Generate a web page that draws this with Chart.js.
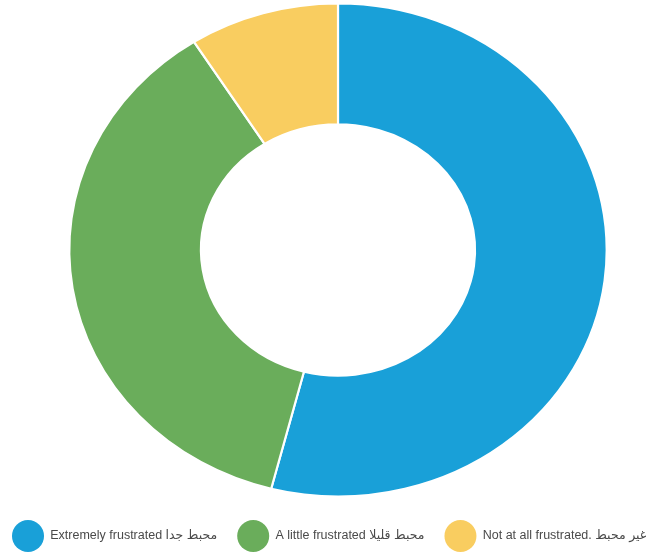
<!DOCTYPE html>
<html>
<head>
<meta charset="utf-8">
<script src="https://cdn.jsdelivr.net/npm/chart.js@4"></script>
<style>
  html, body { margin: 0; padding: 0; background: #fff; overflow: hidden; }
  #wrap { position: relative; width: 652px; height: 562px; }
</style>
</head>
<body>
<div id="wrap"><canvas id="frustrationChart"></canvas></div>
<script>
// Share of answers, clockwise from the top
const answerLabels = [
    'Extremely frustrated محبط جدا',
    'A little frustrated محبط قليلا',
    'Not at all frustrated. غير محبط'
];
const answerShares = [54, 37, 9];
const answerColors = ['#19a0d8', '#6aad5b', '#f9cd60'];

// the original plot is a bit wider than tall
const ellipsePlugin = {
    id: 'ellipse',
    beforeDatasetsDraw(chart) {
        const arc = chart.getDatasetMeta(0).data[0];
        const ctx = chart.ctx;
        ctx.save();
        ctx.translate(arc.x, arc.y);
        ctx.scale(1.09, 1);
        ctx.translate(-arc.x, -arc.y);
    },
    afterDatasetsDraw(chart) {
        chart.ctx.restore();
    }
};

// empty box on the left so the ring sits a little right of the legend centre
const leftGapPlugin = {
    id: 'leftGap',
    beforeInit(chart) {
        Chart.layouts.addBox(chart, {
            position: 'left',
            weight: 0,
            fullSize: false,
            options: {},
            width: 0,
            height: 0,
            update(maxWidth, maxHeight) {
                this.width = 32;
                this.height = maxHeight;
            },
            isHorizontal() { return false; },
            draw() {}
        });
    }
};

document.addEventListener('DOMContentLoaded', function() {
    const ctx = document.getElementById('frustrationChart').getContext('2d');
    new Chart(ctx, {
        type: 'doughnut',
        data: {
            labels: answerLabels,
            datasets: [{
                data: answerShares,
                backgroundColor: answerColors,
                borderColor: '#ffffff',
                borderWidth: 2,
                radius: '99%'
            }]
        },
        options: {
            responsive: true,
            maintainAspectRatio: false,
            animation: false,
            cutout: '51%',
            layout: { padding: { top: 0, left: -8, right: -32 } },
            plugins: {
                tooltip: { enabled: false },
                legend: {
                    position: 'bottom',
                    align: 'start',
                    labels: {
                        boxWidth: 32,
                        boxHeight: 32,
                        padding: 20,
                        color: '#4a4a4a',
                        font: { family: "'Liberation Sans', Arial, 'DejaVu Sans', sans-serif", size: 12.5 },
                        generateLabels(chart) {
                            const base = Chart.overrides.doughnut.plugins.legend.labels.generateLabels(chart);
                            return base.map(item => Object.assign(item, { borderRadius: 16, lineWidth: 0 }));
                        }
                    }
                }
            }
        },
        plugins: [leftGapPlugin, ellipsePlugin]
    });
});
</script>
</body>
</html>
